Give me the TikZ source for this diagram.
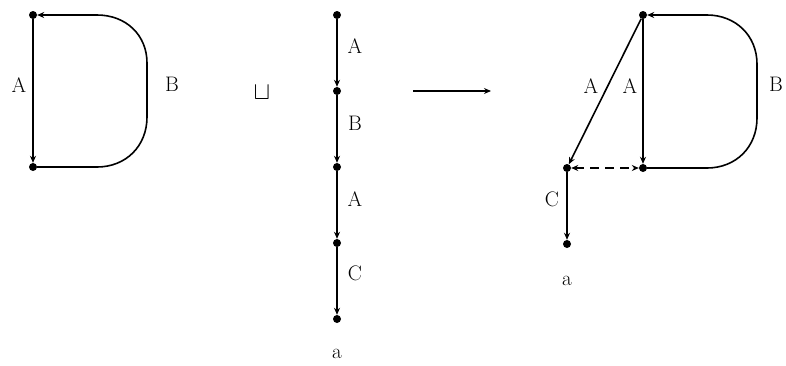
\documentclass[tikz,border=0pt]{standalone}
\usetikzlibrary{arrows.meta}
\begin{document}
\begin{tikzpicture}[x=1pt,y=-1pt,
  dot/.style={circle,fill=black,inner sep=0pt,minimum size=8pt},
  lbl/.style={font=\fontsize{21}{25}\selectfont,inner sep=0pt},
  edge/.style={line width=1.6pt,-{Stealth[length=7pt,width=6pt]}},
  dashedge/.style={line width=1.6pt,dash pattern=on 9pt off 6pt,{Stealth[length=7pt,width=6pt]}-{Stealth[length=7pt,width=6pt]}}]
\useasboundingbox (0,0) rectangle (786,365);
% left D
\node[dot] (l1) at (33,15) {};
\node[dot] (l2) at (33,167) {};
\draw[edge] (l1) -- (l2);
\draw[edge] (l2) -- (97,167) .. controls (126,167) and (147,146) .. (147,117) -- (147,63) .. controls (147,35) and (126,15) .. (97,15) -- (l1);
\node[lbl] (la) at (19,85) {A};
\node[lbl] (lb) at (172,84) {B};
% sqcup
\node[lbl,font=\fontsize{28}{32}\selectfont] (cup) at (262,93) {$\sqcup$};
% middle chain
\node[dot] (m0) at (337,15) {};
\node[dot] (m1) at (337,91) {};
\node[dot] (m2) at (337,167) {};
\node[dot] (m3) at (337,243) {};
\node[dot] (m4) at (337,319) {};
\draw[edge] (m0) -- (m1);
\draw[edge] (m1) -- (m2);
\draw[edge] (m2) -- (m3);
\draw[edge] (m3) -- (m4);
\node[lbl] (ma1) at (355,46) {A};
\node[lbl] (mb) at (355,123) {B};
\node[lbl] (ma2) at (355,199) {A};
\node[lbl] (mc) at (355,273) {C};
\node[lbl] (mlow) at (337,354) {a};
% big arrow
\coordinate (ar1) at (413,91);
\coordinate (ar2) at (491,91);
\draw[edge] (ar1) -- (ar2);
% right
\node[dot] (r1) at (643,15) {};
\node[dot] (r2) at (643,168) {};
\node[dot] (r3) at (567,168) {};
\node[dot] (r4) at (567,244) {};
\draw[edge] (r1) -- (r2);
\draw[edge] (r2) -- (707,168) .. controls (736,168) and (757,147) .. (757,118) -- (757,64) .. controls (757,36) and (736,15) .. (707,15) -- (r1);
\draw[edge] (r1) -- (r3);
\draw[dashedge] (r3) -- (r2);
\draw[edge] (r3) -- (r4);
\node[lbl] (ra1) at (591,86) {A};
\node[lbl] (ra2) at (630,86) {A};
\node[lbl] (rb) at (776,84) {B};
\node[lbl] (rc) at (552,199) {C};
\node[lbl] (rlow) at (567,281) {a};
\end{tikzpicture}
\end{document}
